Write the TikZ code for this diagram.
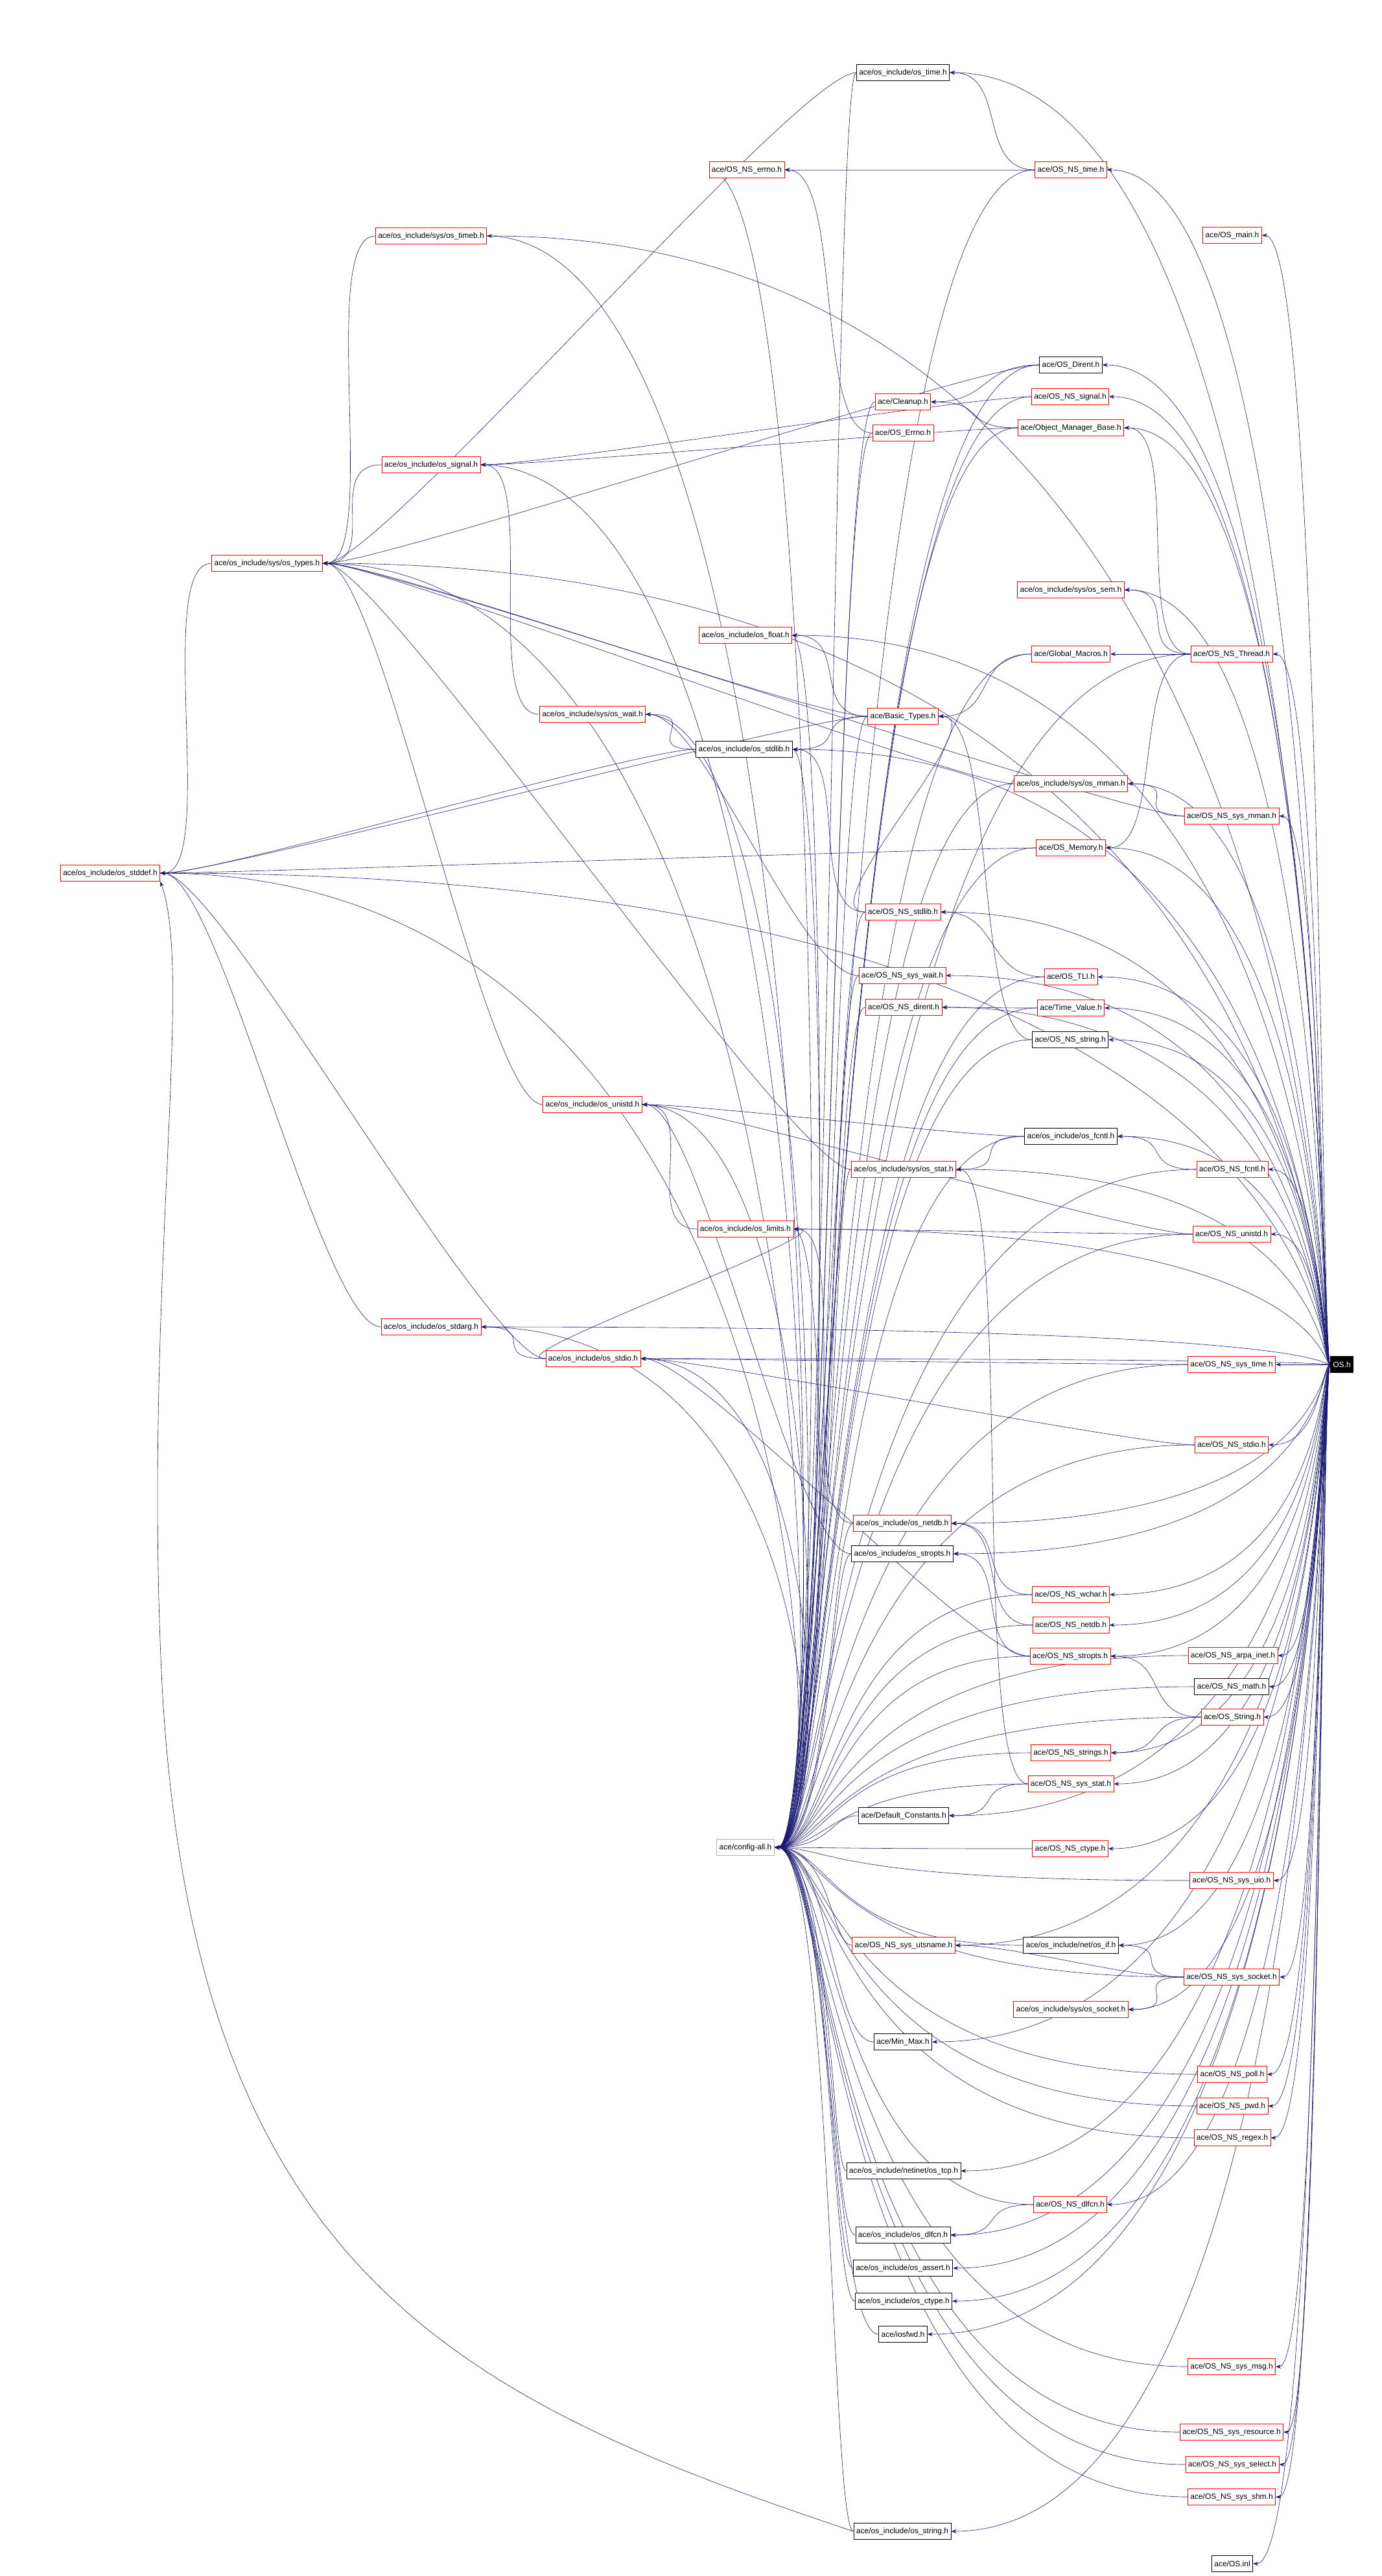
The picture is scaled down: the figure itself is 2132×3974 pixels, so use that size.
\documentclass[tikz,border=0pt]{standalone}
\usepackage{fontspec}
\setmainfont{Liberation Sans}
\usetikzlibrary{arrows.meta}
\pgfdeclarelayer{bg}
\pgfsetlayers{bg,main}
\definecolor{edgec}{HTML}{191970}
\tikzset{
 nb/.style={draw=black,fill=white,font=\fontsize{12}{14}\selectfont,inner xsep=4pt,inner ysep=0pt,minimum height=25pt,line width=0.8pt},
 nr/.style={nb,draw=red},
 ng/.style={nb,draw=gray!60},
 nm/.style={nb,fill=black,text=white},
 e/.style={draw=edgec,line width=0.6pt,-{Stealth[length=8pt,width=6pt]}},
}
\newcommand{\E}[2]{\draw[e] (#1.west) .. controls +(-90,0) and +(90,0) .. (#2.east);}
\begin{document}
\begin{tikzpicture}[x=1pt,y=-1pt]
\useasboundingbox (0,0) rectangle (2132,3974);
\coordinate (bx) at (2038,0);
\coordinate (cx) at (1282,0);
\node[nb] (ostime) at (1393,112) {ace/os\_include/os\_time.h};
\node[nr] (nserrno) at (1152,262) {ace/OS\_NS\_errno.h};
\node[nr] (nstime) at (1652,262) {ace/OS\_NS\_time.h};
\node[nr] (timeb) at (665,364) {ace/os\_include/sys/os\_timeb.h};
\node[nr] (osmain) at (1901,363) {ace/OS\_main.h};
\node[nb] (dirent) at (1652,563) {ace/OS\_Dirent.h};
\node[nr] (nssignal) at (1651,612) {ace/OS\_NS\_signal.h};
\node[nr] (cleanup) at (1393,620) {ace/Cleanup.h};
\node[nr] (omb) at (1652,660) {ace/Object\_Manager\_Base.h};
\node[nr] (oserrno) at (1393,668) {ace/OS\_Errno.h};
\node[nr] (ossignal) at (665,717) {ace/os\_include/os\_signal.h};
\node[nr] (ostypes) at (412,869) {ace/os\_include/sys/os\_types.h};
\node[nr] (ossem) at (1652,910) {ace/os\_include/sys/os\_sem.h};
\node[nr] (osfloat) at (1150,980) {ace/os\_include/os\_float.h};
\node[nr] (gmacros) at (1652,1009) {ace/Global\_Macros.h};
\node[nr] (nsthread) at (1900,1009) {ace/OS\_NS\_Thread.h};
\node[nr] (oswait) at (914,1102) {ace/os\_include/sys/os\_wait.h};
\node[nr] (basic) at (1393,1105) {ace/Basic\_Types.h};
\node[nb] (osstdlib) at (1148,1156) {ace/os\_include/os\_stdlib.h};
\node[nr] (osmman) at (1652,1209) {ace/os\_include/sys/os\_mman.h};
\node[nr] (nsmman) at (1900,1259) {ace/OS\_NS\_sys\_mman.h};
\node[nr] (memory) at (1652,1308) {ace/OS\_Memory.h};
\node[nr] (stddef) at (170,1347) {ace/os\_include/os\_stddef.h};
\node[nr] (nsstdlib) at (1393,1407) {ace/OS\_NS\_stdlib.h};
\node[nr] (nswait) at (1392,1505) {ace/OS\_NS\_sys\_wait.h};
\node[nr] (tli) at (1652,1507) {ace/OS\_TLI.h};
\node[nr] (nsdirent) at (1394,1554) {ace/OS\_NS\_dirent.h};
\node[nr] (timevalue) at (1652,1555) {ace/Time\_Value.h};
\node[nb] (nsstring) at (1651,1604) {ace/OS\_NS\_string.h};
\node[nr] (osunistd) at (914,1704) {ace/os\_include/os\_unistd.h};
\node[nb] (osfcntl) at (1652,1753) {ace/os\_include/os\_fcntl.h};
\node[nr] (osstat) at (1394,1804) {ace/os\_include/sys/os\_stat.h};
\node[nr] (nsfcntl) at (1901,1804) {ace/OS\_NS\_fcntl.h};
\node[nr] (oslimits) at (1150,1896) {ace/os\_include/os\_limits.h};
\node[nr] (nsunistd) at (1900,1904) {ace/OS\_NS\_unistd.h};
\node[nr] (osstdarg) at (665,2047) {ace/os\_include/os\_stdarg.h};
\node[nr] (osstdio) at (915,2096) {ace/os\_include/os\_stdio.h};
\node[nr] (nssystime) at (1900,2105) {ace/OS\_NS\_sys\_time.h};
\node[nm] (os) at (2070,2105) {OS.h};
\node[nr] (nsstdio) at (1900,2229) {ace/OS\_NS\_stdio.h};
\node[nr] (osnetdb) at (1392,2350) {ace/os\_include/os\_netdb.h};
\node[nb] (osstropts) at (1392,2397) {ace/os\_include/os\_stropts.h};
\node[nr] (nswchar) at (1652,2460) {ace/OS\_NS\_wchar.h};
\node[nr] (nsnetdb) at (1652,2507) {ace/OS\_NS\_netdb.h};
\node[nr] (nsstropts) at (1651,2555) {ace/OS\_NS\_stropts.h};
\node[nr] (arpa) at (1902,2554) {ace/OS\_NS\_arpa\_inet.h};
\node[nb] (nsmath) at (1900,2602) {ace/OS\_NS\_math.h};
\node[nr] (osstring) at (1901,2649) {ace/OS\_String.h};
\node[nr] (nsstrings) at (1652,2704) {ace/OS\_NS\_strings.h};
\node[nr] (nssysstat) at (1652,2752) {ace/OS\_NS\_sys\_stat.h};
\node[nb] (defconst) at (1394,2801) {ace/Default\_Constants.h};
\node[ng] (config) at (1150,2850) {ace/config-all.h};
\node[nr] (nsctype) at (1651,2852) {ace/OS\_NS\_ctype.h};
\node[nr] (uio) at (1900,2901) {ace/OS\_NS\_sys\_uio.h};
\node[nr] (utsname) at (1394,3001) {ace/OS\_NS\_sys\_utsname.h};
\node[nb] (osif) at (1652,3001) {ace/os\_include/net/os\_if.h};
\node[nr] (syssocket) at (1900,3050) {ace/OS\_NS\_sys\_socket.h};
\node[nr] (ossocket) at (1652,3100) {ace/os\_include/sys/os\_socket.h};
\node[nb] (minmax) at (1393,3150) {ace/Min\_Max.h};
\node[nr] (poll) at (1901,3200) {ace/OS\_NS\_poll.h};
\node[nr] (pwd) at (1901,3249) {ace/OS\_NS\_pwd.h};
\node[nr] (regex) at (1901,3298) {ace/OS\_NS\_regex.h};
\node[nb] (tcp) at (1394,3349) {ace/os\_include/netinet/os\_tcp.h};
\node[nr] (nsdlfcn) at (1651,3401) {ace/OS\_NS\_dlfcn.h};
\node[nb] (osdlfcn) at (1393,3448) {ace/os\_include/os\_dlfcn.h};
\node[nb] (assert) at (1393,3499) {ace/os\_include/os\_assert.h};
\node[nb] (osctype) at (1394,3550) {ace/os\_include/os\_ctype.h};
\node[nb] (iosfwd) at (1393,3601) {ace/iosfwd.h};
\node[nr] (msg) at (1900,3651) {ace/OS\_NS\_sys\_msg.h};
\node[nr] (resource) at (1900,3752) {ace/OS\_NS\_sys\_resource.h};
\node[nr] (select) at (1901,3802) {ace/OS\_NS\_sys\_select.h};
\node[nr] (shm) at (1900,3852) {ace/OS\_NS\_sys\_shm.h};
\node[nb] (osstr) at (1392,3905) {ace/os\_include/os\_string.h};
\node[nb] (osinl) at (1901,3955) {ace/OS.inl};
\begin{pgfonlayer}{bg}
% OS.h includes
\foreach \t in {ostime,nstime,timeb,osmain,dirent,nssignal,omb,ostypes,ossem,osfloat,nsthread,osstdlib,osmman,nsmman,memory,stddef,nsstdlib,nswait,tli,nsdirent,timevalue,nsstring,osfcntl,osstat,nsfcntl,oslimits,nsunistd,osstdarg,osstdio,nsstdio,osnetdb,osstropts,nswchar,nsnetdb,nsstropts,arpa,nsmath,osstring,nsstrings,nssysstat,defconst,nsctype,uio,utsname,osif,syssocket,ossocket,minmax,poll,pwd,regex,tcp,nsdlfcn,osdlfcn,assert,osctype,iosfwd,msg,resource,select,shm,osstr,osinl}
 {\draw[e] (os.west) .. controls (bx |- os.west) and (bx |- \t.east) .. (\t.east);}
\draw[e] (os) -- (nssystime);
% config-all (right side sources)
\foreach \s in {nserrno,oserrno,cleanup,basic,nsstdlib,nswait,nsdirent,osstat,osnetdb,osstropts,nswchar,nsnetdb,nsstropts,nsstrings,nssysstat,defconst,nsctype,uio,utsname,osif,syssocket,minmax,poll,pwd,regex,tcp,nsdlfcn,osdlfcn,assert,osctype,iosfwd,msg,resource,select,shm,osstr,nsstring,tli,timevalue,memory,osmman,gmacros,nsthread,dirent,nssignal,omb,ostime,nstime,nsfcntl,nsunistd,nssystime,nsstdio,arpa,nsmath,osstring,osfcntl}
 {\draw[e] (\s.west) .. controls (cx |- \s.west) and (cx |- config.east) .. (config.east);}
% config-all (left side sources)
\foreach \s in {stddef,ostypes,ossignal,oswait,osstdlib,osunistd,oslimits,osstdio,osstdarg,osfloat,timeb}
 {\draw[e] (\s.east) .. controls (cx |- \s.east) and (cx |- config.east) .. (config.east);}
% internal
\E{nstime}{ostime}
\E{nstime}{nserrno}
\E{oserrno}{nserrno}
\E{ostime}{ostypes}
\E{timeb}{ostypes}
\E{dirent}{ostypes}
\E{dirent}{cleanup}
\E{omb}{cleanup}
\E{omb}{ossignal}
\E{nssignal}{ossignal}
\E{ossignal}{ostypes}
\E{oswait}{ossignal}
\E{osstdlib}{oswait}
\E{osstdlib}{stddef}
\E{basic}{ostypes}
\E{basic}{osfloat}
\E{basic}{osstdlib}
\E{basic}{stddef}
\E{memory}{stddef}
\E{osmman}{ostypes}
\E{nsmman}{osmman}
\E{nsmman}{ostypes}
\E{nsthread}{gmacros}
\E{nsthread}{ossem}
\E{nsthread}{omb}
\E{nsthread}{memory}
\E{gmacros}{basic}
\E{ostypes}{stddef}
\E{nsstdlib}{basic}
\E{nsstdlib}{osstdlib}
\E{nswait}{oswait}
\E{tli}{nsstdlib}
\E{timevalue}{nsdirent}
\E{nsstring}{basic}
\E{osunistd}{ostypes}
\E{osfcntl}{osunistd}
\E{osfcntl}{osstat}
\E{osstat}{ostypes}
\E{nsfcntl}{osfcntl}
\E{nsunistd}{osunistd}
\E{nsunistd}{oslimits}
\E{oslimits}{osunistd}
\E{osstdio}{osstdarg}
\E{osstdio}{oslimits}
\E{osstdio}{stddef}
\E{osstdarg}{stddef}
\E{nsstdio}{osstdio}
\E{nssystime}{osstdio}
\E{osnetdb}{oslimits}
\E{osstropts}{osunistd}
\E{nswchar}{osnetdb}
\E{nsnetdb}{osnetdb}
\E{nsstropts}{osstropts}
\E{nsstropts}{osstdio}
\E{osstring}{nsstropts}
\E{osstring}{nsstrings}
\E{nssysstat}{defconst}
\E{nssysstat}{osstat}
\E{syssocket}{osif}
\E{syssocket}{ossocket}
\E{syssocket}{utsname}
\E{nsdlfcn}{osdlfcn}
\draw[e] (osstr.west) .. controls (700,3700) and (300,3500) .. (250,2600) .. controls (220,2000) and (300,1500) .. (stddef.south east);
\end{pgfonlayer}
\end{tikzpicture}
\end{document}
